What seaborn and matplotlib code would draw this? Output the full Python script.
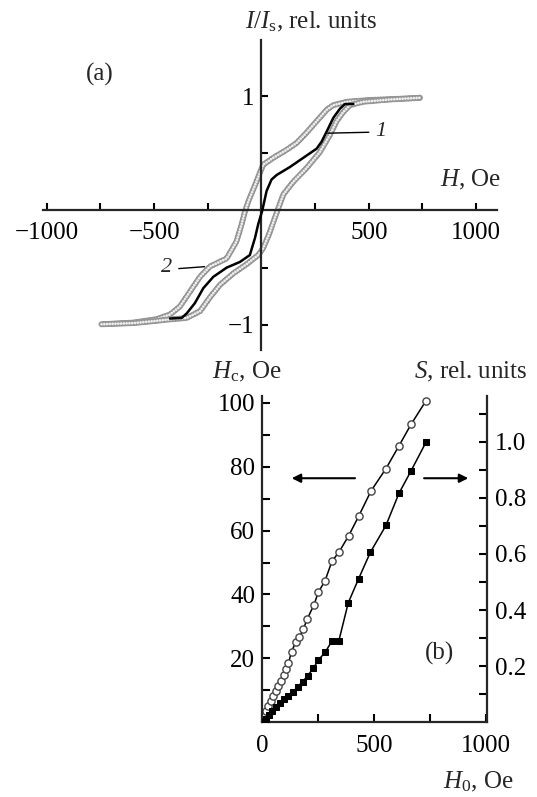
import numpy as np
import pandas as pd
import matplotlib
matplotlib.use("Agg")
import matplotlib.pyplot as plt
import seaborn as sns

# ---- panel (a): magnetization curves ----
# curve 1 (solid black)
h1 = [-426, -372, -348, -310, -271, -224, -162, -100, -54, -30, -15, 4, 24, 47, 71,
      133, 195, 257, 280, 304, 335, 366, 389, 428]
i1 = [-0.945, -0.94, -0.90, -0.81, -0.68, -0.58, -0.50, -0.45, -0.39, -0.24, -0.12,
      0.0, 0.17, 0.27, 0.31, 0.38, 0.46, 0.54, 0.60, 0.69, 0.81, 0.89, 0.93, 0.93]

# curve 2 (grey loop) - descending branch
h2_down = [738, 693, 505, 397, 334, 304, 257, 210, 164, 117, 55, 8, -7, -30, -61, -77,
           -92, -116, -162, -240, -286, -333, -380, -426, -488, -597, -745]
i2_down = [0.985, 0.98, 0.966, 0.95, 0.92, 0.88, 0.78, 0.68, 0.59, 0.53, 0.46, 0.40,
           0.33, 0.22, 0.08, -0.01, -0.12, -0.27, -0.42, -0.49, -0.58, -0.71, -0.84,
           -0.91, -0.95, -0.98, -0.995]
# ascending branch
h2_up = [-745, -597, -488, -441, -348, -286, -240, -193, -131, -69, -15, 8, 35, 71,
         102, 148, 210, 272, 319, 350, 381, 412, 474, 600, 738]
i2_up = [-0.995, -0.985, -0.965, -0.955, -0.94, -0.88, -0.76, -0.65, -0.55, -0.47,
         -0.39, -0.33, -0.21, -0.02, 0.14, 0.25, 0.37, 0.51, 0.66, 0.78, 0.86, 0.92,
         0.95, 0.97, 0.985]

# ---- panel (b): Hc and S vs H0 ----
h0_hc = [3, 9, 17, 27, 38, 49, 60, 72, 84, 96, 106, 117, 131, 149, 166, 184, 201, 231,
         251, 281, 312, 343, 387, 431, 487, 554, 612, 666, 733]
hc = [0.5, 2.0, 3.6, 5.2, 6.8, 8.2, 9.8, 11.4, 13.0, 14.8, 16.6, 18.5, 22.1, 25.0,
      26.6, 29.2, 32.3, 36.7, 40.7, 44.3, 50.4, 53.2, 58.4, 64.4, 72.4, 79.4, 86.5,
      93.2, 100.6]

h0_s = [3, 17, 30, 45, 61, 79, 98, 117, 139, 158, 181, 203, 228, 251, 281, 313, 343,
        385, 431, 484, 554, 612, 666, 733]
s_val = [0.002, 0.011, 0.026, 0.041, 0.056, 0.070, 0.082, 0.094, 0.109, 0.127, 0.145,
         0.166, 0.192, 0.222, 0.249, 0.291, 0.291, 0.426, 0.511, 0.606, 0.702, 0.816,
         0.896, 0.998]

sns.set_theme(style="ticks")
plt.rcParams['font.family'] = ['Liberation Serif', 'DejaVu Serif']
plt.rcParams['mathtext.fontset'] = 'custom'
plt.rcParams['mathtext.rm'] = 'Liberation Serif'
plt.rcParams['mathtext.it'] = 'Liberation Serif:italic'
plt.rcParams['lines.scale_dashes'] = False

FS = 18
W, H = 537, 797
fig = plt.figure(figsize=(W / 100, H / 100), dpi=100)

# ---------------- panel (a) ----------------
ax1 = fig.add_axes([42.7 / W, 1 - 350 / H, 454 / W, 310 / H])
ax1.set_facecolor('white')
ring = (0, (0.01, 2.0))
for br_h, br_i in [(h2_down, i2_down), (h2_up, i2_up)]:
    df = pd.DataFrame({'H': br_h, 'I': br_i})
    sns.lineplot(data=df, x='H', y='I', ax=ax1, sort=False, estimator=None,
                 color='#959595', lw=4.4, linestyle=ring, dash_capstyle='round', zorder=2)
    sns.lineplot(data=df, x='H', y='I', ax=ax1, sort=False, estimator=None,
                 color='#eeeeee', lw=2.0, linestyle=ring, dash_capstyle='round', zorder=2)
df1 = pd.DataFrame({'H': h1, 'I': i1})
sns.lineplot(data=df1, x='H', y='I', ax=ax1, sort=False, estimator=None,
             color='black', lw=1.8, zorder=3)

ax1.set_xlim(-1019, 1096)
ax1.set_ylim(-1.22, 1.49)
ax1.spines['left'].set_position(('data', 0))
ax1.spines['bottom'].set_position(('data', 0))
ax1.spines['top'].set_visible(False)
ax1.spines['right'].set_visible(False)
for sp in ['left', 'bottom']:
    ax1.spines[sp].set_linewidth(1.6)
ax1.set_xticks([-1000, -500, 500, 1000])
ax1.set_xticklabels(['\u22121000', '\u2212500', '500', '1000'])
ax1.set_xticks([-750, -250, 250, 750], minor=True)
ax1.set_yticks([-1, 1])
ax1.set_yticklabels(['\u22121', '1'])
ax1.set_yticks([-0.5, 0.5], minor=True)
ax1.tick_params(which='both', direction='in', length=5, width=1.5, labelsize=FS,
                colors='black')
ax1.tick_params(axis='x', which='both', pad=8)
ax1.tick_params(axis='y', which='both', pad=5)
ax1.set_xlabel('')
ax1.set_ylabel('')

ax1.annotate('', xy=(296, 0.675), xytext=(513, 0.684),
             arrowprops=dict(arrowstyle='-', lw=1.0, color='black'))
ax1.text(532, 0.69, '1', style='italic', fontsize=16, ha='left', va='center')
ax1.annotate('', xy=(-252, -0.49), xytext=(-398, -0.51),
             arrowprops=dict(arrowstyle='-', lw=1.0, color='black'))
ax1.text(-441, -0.50, '2', style='italic', fontsize=16, ha='center', va='center')

fig.text(311 / W, 1 - 22 / H, r'$I/I_{\rm s}$, rel. units', fontsize=FS,
         ha='center', va='center')
fig.text(471 / W, 1 - 180 / H, r'$H$, Oe', fontsize=FS, ha='center', va='center')
fig.text(100 / W, 1 - 74 / H, '(a)', fontsize=FS, ha='center', va='center')

# ---------------- panel (b) ----------------
ax2 = fig.add_axes([262.3 / W, 1 - 722.3 / H, 224.4 / W, 326.3 / H])
ax3 = ax2.twinx()
ax2.set_facecolor('white')

dfc = pd.DataFrame({'H0': h0_hc, 'Hc': hc})
sns.lineplot(data=dfc, x='H0', y='Hc', ax=ax2, sort=False, estimator=None,
             color='black', lw=1.1, marker='o', markersize=5.2,
             markerfacecolor='white', markeredgecolor='#444444', markeredgewidth=1.0)
dfs = pd.DataFrame({'H0': h0_s, 'S': s_val})
sns.lineplot(data=dfs, x='H0', y='S', ax=ax3, sort=False, estimator=None,
             color='black', lw=1.1, marker='s', markersize=4.6,
             markerfacecolor='black', markeredgecolor='black')

ax2.set_xlim(0, 1005)
ax2.set_ylim(0, 102.1)
ax3.set_ylim(0, 1.163)

ax2.spines['top'].set_visible(False)
ax2.spines['right'].set_visible(False)
for sp in ['top', 'left', 'bottom']:
    ax3.spines[sp].set_visible(False)
for sp in ['left', 'bottom']:
    ax2.spines[sp].set_linewidth(1.6)
ax3.spines['right'].set_linewidth(1.6)

ax2.set_xticks([0, 500, 1000])
ax2.set_xticks([250, 750], minor=True)
ax2.set_yticks([20, 40, 60, 80, 100])
ax2.set_yticks([10, 30, 50, 70, 90], minor=True)
ax3.set_yticks([0.2, 0.4, 0.6, 0.8, 1.0])
ax3.set_yticklabels(['0.2', '0.4', '0.6', '0.8', '1.0'])
ax3.set_yticks([0.1, 0.3, 0.5, 0.7, 0.9, 1.1], minor=True)
for a in (ax2, ax3):
    a.tick_params(which='both', direction='in', length=5.5, width=1.5,
                  labelsize=FS, colors='black')
ax2.tick_params(axis='x', which='both', pad=9)
ax2.tick_params(axis='y', which='both', pad=5)
ax3.tick_params(axis='y', which='both', pad=6)
ax2.set_xlabel('')
ax2.set_ylabel('')
ax3.set_ylabel('')

arrow = dict(arrowstyle='-|>', lw=1.5, color='black', mutation_scale=13,
             shrinkA=0, shrinkB=0)
ax2.annotate('', xy=(0.131, 0.748), xytext=(0.413, 0.748), xycoords='axes fraction',
             textcoords='axes fraction', arrowprops=arrow)
ax2.annotate('', xy=(0.918, 0.748), xytext=(0.721, 0.748), xycoords='axes fraction',
             textcoords='axes fraction', arrowprops=arrow)

fig.text(247 / W, 1 - 372 / H, r'$H_{\rm c}$, Oe', fontsize=FS, ha='center', va='center')
fig.text(471 / W, 1 - 372 / H, r'$S$, rel. units', fontsize=FS, ha='center', va='center')
fig.text(478 / W, 1 - 782 / H, r'$H_0$, Oe', fontsize=FS, ha='center', va='center')
fig.text(440 / W, 1 - 653 / H, '(b)', fontsize=FS, ha='center', va='center')

fig.savefig('out.png', dpi=100, facecolor='white')
